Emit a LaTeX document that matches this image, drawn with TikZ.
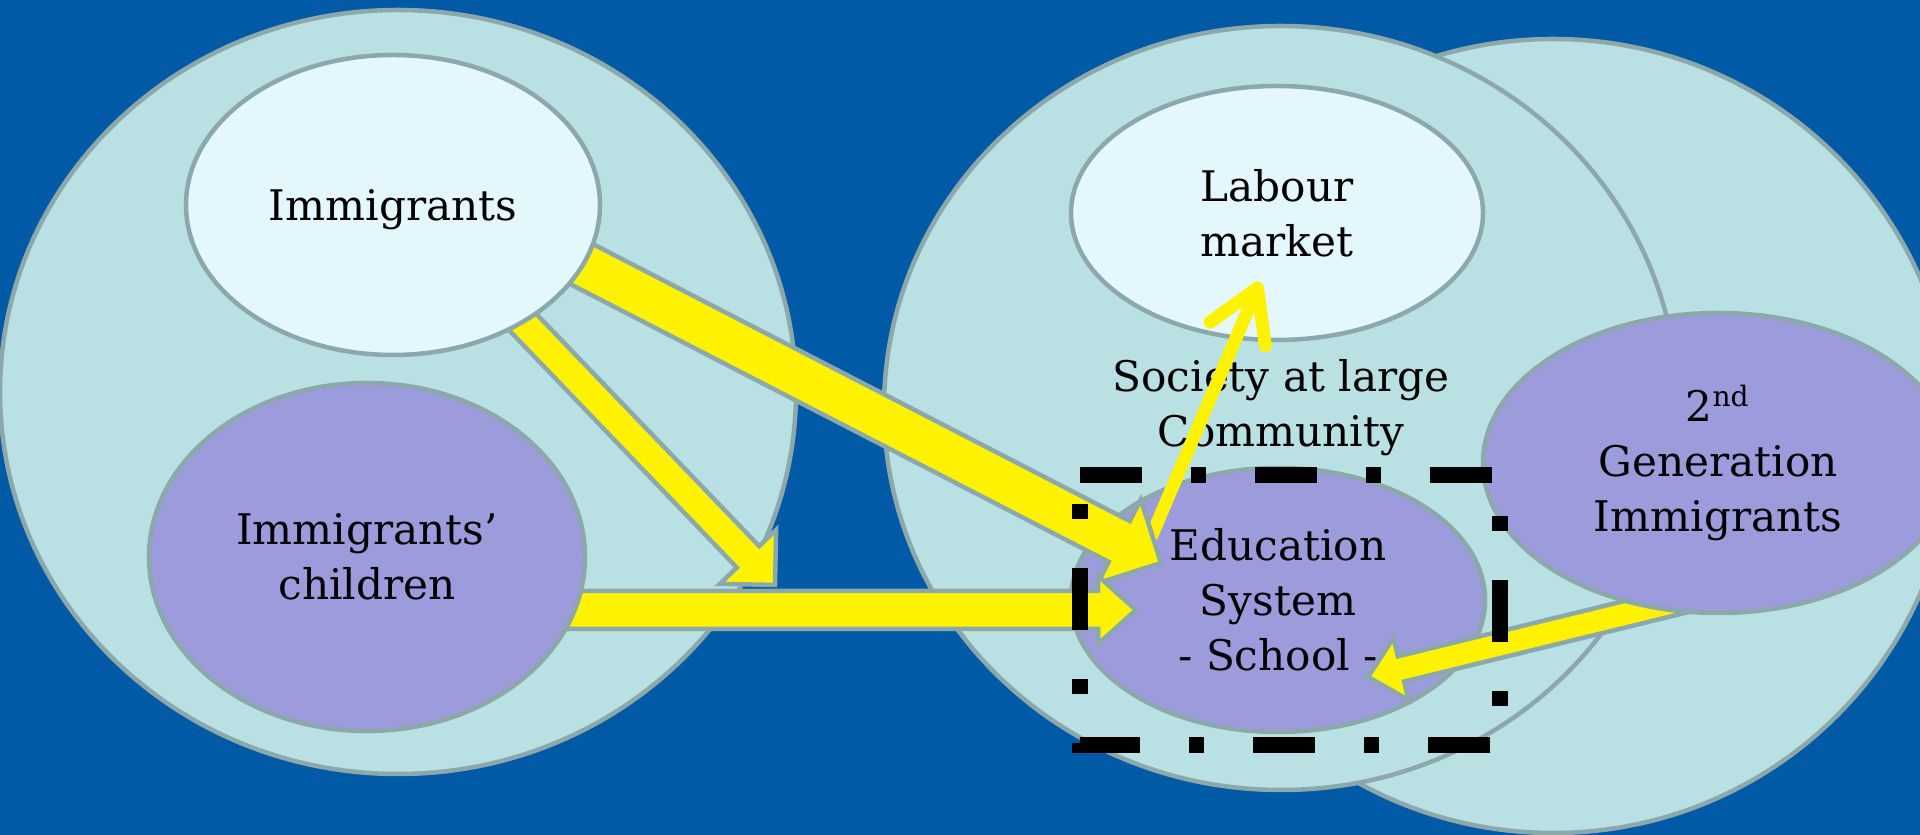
\documentclass[tikz,border=0pt]{standalone}
\usepackage{fontspec}
\setmainfont{DejaVu Serif}
\usetikzlibrary{shapes.geometric,calc,arrows.meta}
\pgfdeclarelayer{front}
\pgfsetlayers{main,front}

% block arrow: from, to, shaft half width, head half width, head length
\newcommand{\fatarrow}[5]{
    \coordinate (hb) at ($(#2)!#5!(#1)$);
    \draw[fatarrow] ($(#1)!#3!90:(#2)$) -- ($(hb)!#3!90:(#2)$) -- ($(hb)!#4!90:(#2)$)
        -- (#2) -- ($(hb)!#4!-90:(#2)$) -- ($(hb)!#3!-90:(#2)$) -- ($(#1)!#3!-90:(#2)$) -- cycle;
}

\begin{document}
\begin{tikzpicture}[
    blob/.style={ellipse, draw=rim, line width=0.45mm, inner sep=0pt, align=center,
        font=\fontsize{12}{15.6}\selectfont},
    fatarrow/.style={fill=yellow, draw=rim, line width=0.45mm},
    thinarrow/.style={yellow, line width=1.3mm, line cap=round,
        -{Straight Barb[length=5mm,width=6mm,round]}}
]
    \definecolor{slide_blue}{HTML}{005AA5}
    \definecolor{rim}{HTML}{8CA8AA}
    \definecolor{pale_teal}{HTML}{B9E0E3}
    \definecolor{ice}{HTML}{E4F7FD}
    \definecolor{lavender}{HTML}{9C9CDD}
    %\draw[help lines] (0,0) grid (19,8);

    \useasboundingbox (0,0) rectangle (19.20,8.35);
    \fill[slide_blue] (0,0) rectangle (19.20,8.35);

    % the three big sets
    \node[blob, fill=pale_teal, minimum width=8.00cm, minimum height=7.94cm] (genset) at (15.53,3.99) {};
    \node[blob, fill=pale_teal, minimum width=7.96cm, minimum height=7.64cm] (origin) at (3.98,4.43) {};
    \node[blob, fill=pale_teal, minimum width=7.94cm, minimum height=7.64cm] (society) at (12.81,4.27) {Society at large\\Community};

    \node[blob, fill=lavender, minimum width=4.14cm, minimum height=2.64cm] (edu) at (12.78,2.35) {Education\\System\\- School -};
    \node[blob, fill=ice, minimum width=4.12cm, minimum height=2.54cm] (lab) at (12.77,6.22) {Labour\\market};

    \begin{pgfonlayer}{front}
        \node[blob, fill=ice, text depth=0pt, minimum width=4.14cm, minimum height=3.00cm] (imm) at (3.93,6.30) {Immigrants};
        \node[blob, fill=lavender, minimum width=4.36cm, minimum height=3.48cm] (kids) at (3.67,2.78) {Immigrants’\\children};
        \node[blob, fill=lavender, minimum width=4.70cm, minimum height=3.00cm] (gen) at (17.18,3.72) {2\textsuperscript{nd}\\Generation\\Immigrants};
    \end{pgfonlayer}

    % arrow ends
    \coordinate (immA) at ($(imm)+(1.07,-0.17)$);
    \coordinate (eduA) at ($(edu)+(-1.17,0.37)$);
    \coordinate (immB) at ($(imm)+(0.97,-0.83)$);
    \coordinate (drop) at (7.75,2.50);
    \coordinate (kidsC) at ($(kids)+(1.53,-0.53)$);
    \coordinate (eduC) at ($(edu)+(-1.42,-0.10)$);
    \coordinate (genD) at ($(gen)+(0.02,-1.28)$);
    \coordinate (eduD) at ($(edu)+(0.90,-0.77)$);
    \coordinate (eduE) at ($(edu)+(-1.26,0.65)$);
    \coordinate (labE) at ($(lab)+(-0.17,-0.69)$);

    \draw[thinarrow] (eduE) -- (labE);
    \fatarrow{immA}{eduA}{2.3mm}{4.7mm}{4.7mm}
    \fatarrow{immB}{drop}{1.55mm}{3.9mm}{3.9mm}
    \fatarrow{kidsC}{eduC}{1.9mm}{3.4mm}{3.8mm}
    \fatarrow{genD}{eduD}{1.3mm}{3.2mm}{3.4mm}

    \begin{pgfonlayer}{front}
        \draw[black, line width=1.6mm, dash pattern=on 6.2mm off 4.9mm on 1.5mm off 4.9mm]
            (10.80,3.60) -- (15.00,3.60) -- (15.00,0.90) -- (10.80,0.90) -- cycle;
    \end{pgfonlayer}
\end{tikzpicture}
\end{document}
